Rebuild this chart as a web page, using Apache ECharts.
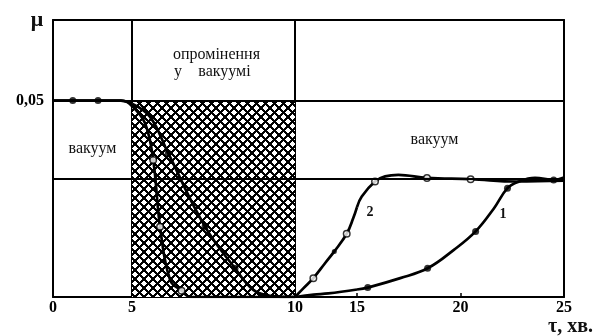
<!DOCTYPE html>
<html>
<head>
<meta charset="utf-8">
<script src="https://cdn.jsdelivr.net/npm/echarts@6/dist/echarts.min.js"></script>
<style>
html,body{margin:0;padding:0;background:#fff;}
#chart{width:594px;height:336px;}
</style>
</head>
<body>
<div id="chart"></div>
<script>
// ---- data ----
// x-axis segments (the original figure uses a different scale in each segment)
const xSegments = [[0, 5], [5, 10], [10, 15], [15, 25]];
const yMax = 0.0705;
const yLabelValue = 0.05;
const yLevels = [0.05, 0.0296];
const irradiation = [5, 10, 0, 0.05]; // x from, x to, y from, y to

// curve 1 (filled markers)
const curve1X = [0, 1.25, 2.85, 4.3, 4.7, 5, 5.55, 6.11, 7.24, 8.16, 8.72, 9.23, 10, 11.5, 12.69, 15, 15.52, 17.09, 18.41, 19.68, 20.73, 21.62, 22.27, 22.79, 23.6, 24.5, 25];
const curve1Y = [0.05, 0.05, 0.05, 0.05, 0.0497, 0.0492, 0.0459, 0.0366, 0.0179, 0.0073, 0.0018, 0.0003, 0, 0.0006, 0.0009, 0.0019, 0.0024, 0.0048, 0.0073, 0.012, 0.0167, 0.0226, 0.0277, 0.0293, 0.0303, 0.0298, 0.0304];
const curve1MarkX = [1.25, 2.85, 6.11, 7.24, 8.16, 15.52, 18.41, 20.73, 22.27, 24.5];
const curve1MarkY = [0.05, 0.05, 0.0366, 0.0179, 0.0073, 0.0024, 0.0073, 0.0167, 0.0277, 0.0298];

// curve 2 (open markers)
const curve2X = [0, 4.3, 4.7, 5, 5.4, 5.65, 5.86, 6.17, 6.52, 6.8, 10, 10.67, 11.48, 12.42, 13.17, 14.17, 14.7, 15, 15.23, 15.87, 16.36, 17.0, 18.38, 20.49, 22.7, 25];
const curve2Y = [0.05, 0.05, 0.0496, 0.0486, 0.0442, 0.0349, 0.0179, 0.0043, 0.0016, 0, 0, 0.0022, 0.0048, 0.0086, 0.0116, 0.0161, 0.0201, 0.0229, 0.0256, 0.0294, 0.0307, 0.0311, 0.0303, 0.0300, 0.0294, 0.0296];
const curve2OpenX = [5.65, 5.86, 6.52, 11.48, 14.17, 15.87, 18.38, 20.49];
const curve2OpenY = [0.0349, 0.0179, 0.0016, 0.0048, 0.0161, 0.0294, 0.0303, 0.0300];
const curve2DotX = [13.17];
const curve2DotY = [0.0116];

// ---- layout ----
const gridBoxes = [
  {left: 53, width: 79},
  {left: 132, width: 163},
  {left: 295, width: 62},
  {left: 357, width: 207}
];
const TOP = 20, HEIGHT = 277;
const FONT = 'Liberation Serif';

function zip(xs, ys) { return xs.map((x, i) => [x, ys[i]]); }
function inRange(xs, ys, lo, hi) {
  return zip(xs, ys).filter(p => p[0] >= lo && p[0] <= hi);
}

// crisp crosshatch pattern
const T = 9;
const pc = document.createElement('canvas');
pc.width = T; pc.height = T;
const ctx = pc.getContext('2d');
ctx.fillStyle = '#fff'; ctx.fillRect(0, 0, T, T);
ctx.fillStyle = '#000';
for (let px = 0; px < T; px++) {
  for (let py = 0; py < T; py++) {
    const d1 = ((px - py) % T + T) % T;
    const d2 = (px + py + 1) % T;
    const n1 = Math.min(d1, T - d1), n2 = Math.min(d2, T - d2);
    if (n1 <= 1 || n2 <= 1) ctx.fillRect(px, py, 1, 1);
  }
}

const grids = [], xAxes = [], yAxes = [], series = [];
xSegments.forEach((seg, g) => {
  grids.push({left: gridBoxes[g].left, top: TOP, width: gridBoxes[g].width, height: HEIGHT, containLabel: false});
  xAxes.push({
    type: 'value', gridIndex: g, min: seg[0], max: seg[1], interval: 5, position: 'bottom',
    axisLine: {show: true, lineStyle: {color: '#000', width: 2}},
    axisTick: {show: true, inside: true, length: 4, lineStyle: {color: '#000', width: 1.5}},
    axisLabel: {show: true, showMinLabel: g === 0, color: '#000', fontFamily: FONT, fontWeight: 'bold', fontSize: 16, margin: 3},
    splitLine: {show: false}
  });
  xAxes.push({
    type: 'value', gridIndex: g, min: seg[0], max: seg[1], position: 'top',
    axisLine: {show: true, lineStyle: {color: '#000', width: 2}},
    axisTick: {show: false}, axisLabel: {show: false}, splitLine: {show: false}
  });
  yAxes.push({
    type: 'value', gridIndex: g, min: 0, max: yMax, interval: 0.05,
    position: g === 3 ? 'right' : 'left',
    axisLine: {show: true, lineStyle: {color: '#000', width: 2}},
    axisTick: {show: false},
    axisLabel: {
      show: g === 0, color: '#000', fontFamily: FONT, fontWeight: 'bold', fontSize: 16, margin: 9,
      formatter: v => Math.abs(v - yLabelValue) < 1e-9 ? String(yLabelValue).replace('.', ',') : ''
    },
    splitLine: {show: false}
  });
  const xi = g * 2, yi = g;
  const base = {
    type: 'line', xAxisIndex: xi, yAxisIndex: yi, data: [], silent: true, z: 1,
    markLine: {
      silent: true, symbol: ['none', 'none'], label: {show: false},
      lineStyle: {color: '#000', width: 1.8, type: 'solid'},
      data: yLevels.map(v => ({yAxis: v}))
    }
  };
  if (irradiation[0] >= seg[0] && irradiation[1] <= seg[1]) {
    base.markArea = {
      silent: true,
      itemStyle: {color: {image: pc, repeat: 'repeat'}},
      data: [[{xAxis: irradiation[0], yAxis: irradiation[2]}, {xAxis: irradiation[1], yAxis: irradiation[3]}]]
    };
  }
  series.push(base);
  [[curve1X, curve1Y], [curve2X, curve2Y]].forEach(([xs, ys]) => {
    series.push({
      type: 'line', xAxisIndex: xi, yAxisIndex: yi, z: 3, silent: true,
      data: inRange(xs, ys, seg[0], seg[1]),
      smooth: 0.4, showSymbol: false, symbol: 'none', clip: true,
      lineStyle: {color: '#000', width: 2.7}
    });
  });
  series.push({
    type: 'scatter', xAxisIndex: xi, yAxisIndex: yi, z: 4, silent: true,
    data: inRange(curve1MarkX, curve1MarkY, seg[0], seg[1]),
    symbol: 'circle', symbolSize: 7, itemStyle: {color: '#000'}
  });
  series.push({
    type: 'scatter', xAxisIndex: xi, yAxisIndex: yi, z: 4, silent: true,
    data: inRange(curve2OpenX, curve2OpenY, seg[0], seg[1]),
    symbol: 'circle', symbolSize: 6.5, itemStyle: {color: '#fff', borderColor: '#000', borderWidth: 1.5}
  });
  series.push({
    type: 'scatter', xAxisIndex: xi, yAxisIndex: yi, z: 4, silent: true,
    data: inRange(curve2DotX, curve2DotY, seg[0], seg[1]),
    symbol: 'circle', symbolSize: 5, itemStyle: {color: '#000'}
  });
});

function txt(text, x, y, size, bold, align) {
  return {type: 'text', x: x, y: y, silent: true, z: 10, style: {
    text: text, fill: '#111', font: (bold ? 'bold ' : '') + size + 'px "' + FONT + '"',
    textAlign: align || 'center', textVerticalAlign: 'middle'
  }};
}

const chart = echarts.init(document.getElementById('chart'), null, {renderer: 'canvas'});
chart.setOption({
  animation: false,
  backgroundColor: '#fff',
  grid: grids, xAxis: xAxes, yAxis: yAxes, series: series,
  graphic: [
    txt('μ', 37, 20, 22, true),
    txt('τ, хв.', 593, 327, 20, true, 'right'),
    txt('вакуум', 92.5, 149, 16, false),
    txt('опромінення', 216.5, 55, 16, false),
    txt('у', 178, 72, 16, false),
    txt('вакуумі', 224.5, 72, 16, false),
    txt('вакуум', 434.5, 140, 16, false),
    txt('2', 370, 212, 14, true),
    txt('1', 503, 214.5, 14, true)
  ]
});
</script>
</body>
</html>
